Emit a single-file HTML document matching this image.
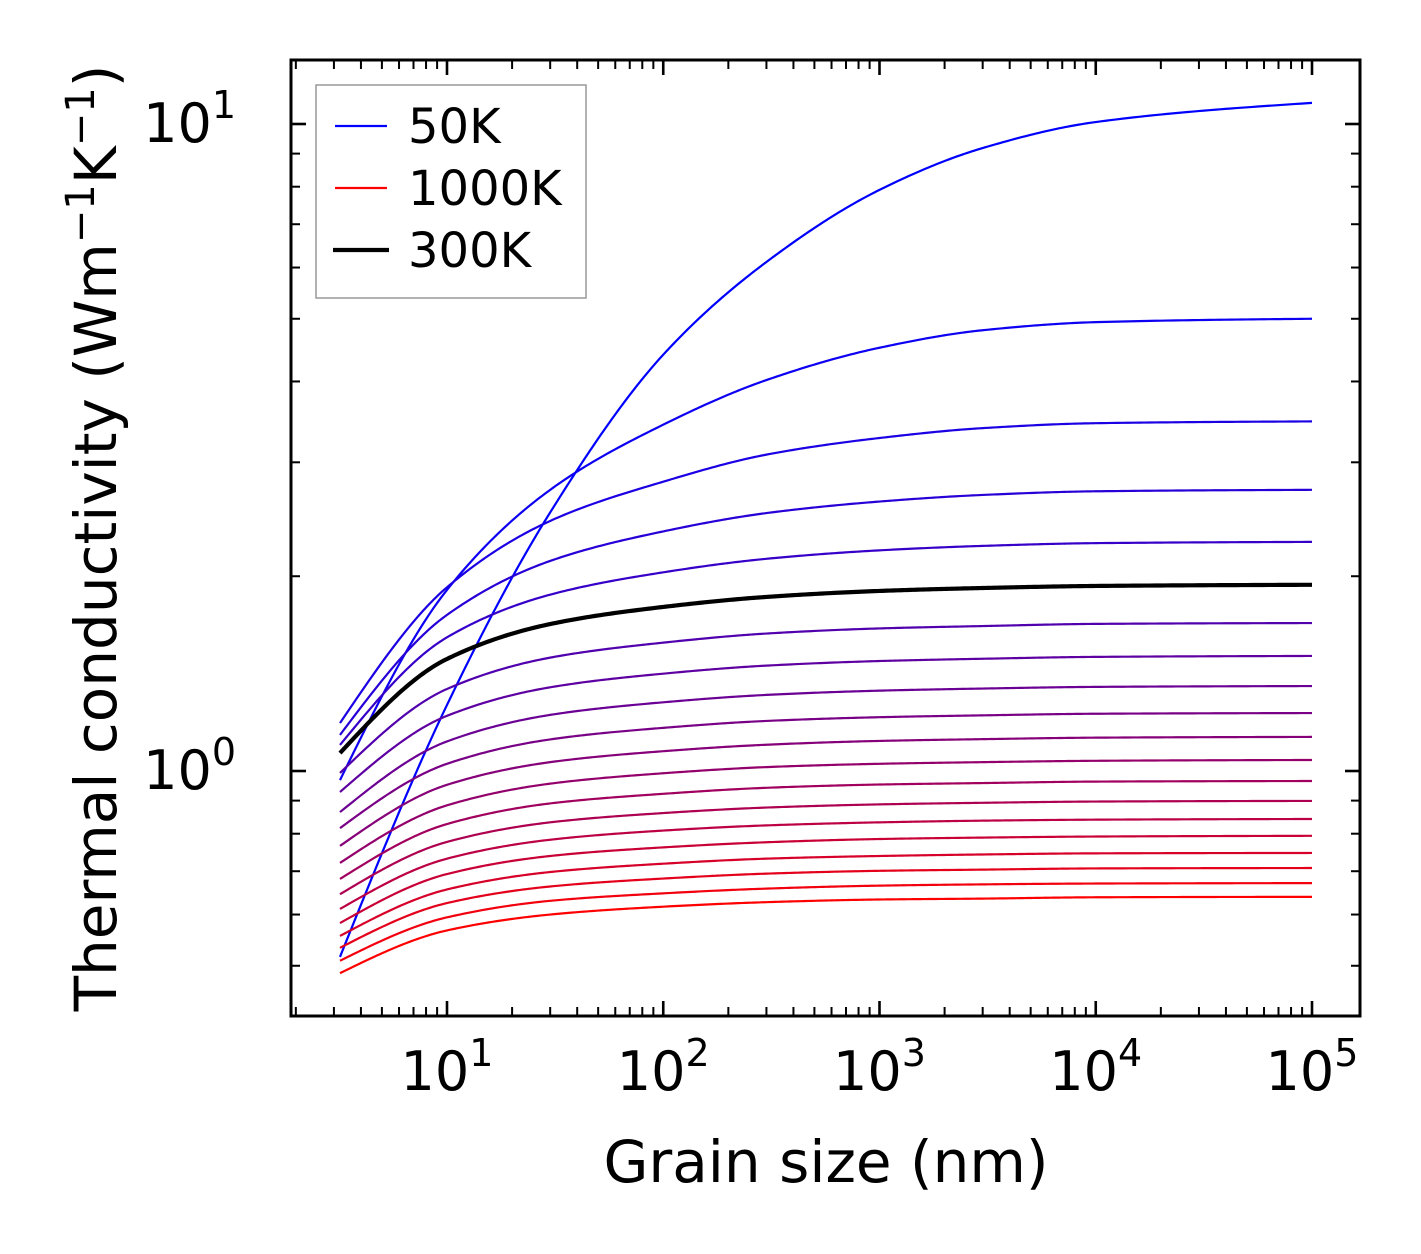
<!DOCTYPE html>
<html><head><meta charset="utf-8"><style>
html,body{margin:0;padding:0;background:#fff;}
svg{display:block;font-family:"DejaVu Sans","Liberation Sans",sans-serif;}
</style></head><body>
<svg id="chart" width="1421" height="1254" viewBox="0 0 1421 1254" xmlns="http://www.w3.org/2000/svg">
<rect x="0" y="0" width="1421" height="1254" fill="#fff"/>
<g id="series"></g>
<g id="axes"></g>
<text x="826" y="1182" font-size="58" text-anchor="middle">Grain size (nm)</text>
<text transform="translate(116,538) rotate(-90)" font-size="58" text-anchor="middle">Thermal conductivity (Wm<tspan dy="-22" font-size="40">−1</tspan><tspan dy="22">K</tspan><tspan dy="-22" font-size="40">−1</tspan><tspan dy="22">)</tspan></text>
<g>
<rect x="316" y="85" width="270" height="213" fill="#fff" stroke="#999" stroke-width="1.5"/>
<line x1="335" y1="126" x2="387" y2="126" stroke="#0000ff" stroke-width="2.2"/>
<text x="408" y="143" font-size="48">50K</text>
<line x1="335" y1="188" x2="387" y2="188" stroke="#ff0000" stroke-width="2.2"/>
<text x="408" y="205" font-size="48">1000K</text>
<line x1="333" y1="250" x2="389" y2="250" stroke="#000" stroke-width="4.2"/>
<text x="408" y="267" font-size="48">300K</text>
</g>
</svg>
<script>
const grainSizes = [3.2, 10, 30, 100, 300, 1000, 3000, 10000, 100000];
const temperatures = [50,100,150,200,250,300,350,400,450,500,550,600,650,700,750,800,850,900,950,1000];
const k50 = [0.516, 1.265, 2.51, 4.40, 6.12, 7.91, 9.18, 10.07, 10.78];
const k100 = [0.968, 1.905, 2.72, 3.43, 4.02, 4.51, 4.80, 4.94, 5.00];
const k150 = [1.186, 1.923, 2.435, 2.80, 3.083, 3.271, 3.388, 3.448, 3.47];
const k200 = [1.137, 1.743, 2.112, 2.346, 2.504, 2.609, 2.671, 2.706, 2.72];
const k250 = [1.097, 1.609, 1.873, 2.028, 2.128, 2.193, 2.228, 2.250, 2.26];
const k300 = [1.066, 1.490, 1.687, 1.793, 1.858, 1.898, 1.918, 1.932, 1.94];
const k350 = [0.993, 1.339, 1.497, 1.579, 1.631, 1.661, 1.675, 1.688, 1.693];
const k400 = [0.928, 1.217, 1.347, 1.414, 1.455, 1.479, 1.491, 1.501, 1.506];
const k450 = [0.864, 1.111, 1.221, 1.277, 1.311, 1.331, 1.341, 1.349, 1.353];
const k500 = [0.816, 1.026, 1.119, 1.166, 1.195, 1.211, 1.219, 1.226, 1.229];
const k550 = [0.766, 0.952, 1.032, 1.073, 1.098, 1.113, 1.120, 1.126, 1.129];
const k600 = [0.721, 0.885, 0.956, 0.992, 1.014, 1.026, 1.032, 1.037, 1.040];
const k650 = [0.681, 0.828, 0.891, 0.922, 0.942, 0.953, 0.958, 0.963, 0.965];
const k700 = [0.645, 0.777, 0.833, 0.861, 0.878, 0.888, 0.893, 0.897, 0.899];
const k750 = [0.612, 0.732, 0.783, 0.809, 0.824, 0.833, 0.838, 0.841, 0.843];
const k800 = [0.582, 0.693, 0.739, 0.762, 0.776, 0.785, 0.789, 0.792, 0.794];
const k850 = [0.556, 0.656, 0.698, 0.719, 0.732, 0.739, 0.743, 0.746, 0.747];
const k900 = [0.533, 0.625, 0.663, 0.682, 0.694, 0.701, 0.704, 0.707, 0.708];
const k950 = [0.509, 0.594, 0.630, 0.647, 0.658, 0.665, 0.668, 0.670, 0.671];
const k1000 = [0.487, 0.567, 0.600, 0.617, 0.627, 0.633, 0.635, 0.638, 0.639];
const xTickLabels = ["1", "2", "3", "4", "5"];
const yTickLabels = ["0", "1"];

const seriesList = [k50,k100,k150,k200,k250,k300,k350,k400,k450,k500,k550,k600,k650,k700,k750,k800,k850,k900,k950,k1000];
const NS = "http://www.w3.org/2000/svg";
const L = 291, R = 1360, T = 60, B = 1016;
const X0 = 230.75, XD = 216.25;
const Y0 = 771, YD = 647;
function xs(v){ return X0 + Math.log10(v) * XD; }
function ys(v){ return Y0 - Math.log10(v) * YD; }

function monotone(xsArr, ysArr, n){
  const m = xsArr.length, d = [], t = new Array(m);
  for (let i=0;i<m-1;i++) d.push((ysArr[i+1]-ysArr[i])/(xsArr[i+1]-xsArr[i]));
  for (let i=1;i<m-1;i++){
    if (d[i-1]*d[i]<=0){ t[i]=0; continue; }
    const h0=xsArr[i]-xsArr[i-1], h1=xsArr[i+1]-xsArr[i];
    const w1=2*h1+h0, w2=h1+2*h0;
    t[i]=(w1+w2)/(w1/d[i-1]+w2/d[i]);
  }
  t[0]=(3*d[0]-t[1])/2; if (t[0]*d[0]<0) t[0]=0;
  t[m-1]=(3*d[m-2]-t[m-2])/2; if (t[m-1]*d[m-2]<0) t[m-1]=0;
  const out=[];
  for (let i=0;i<m-1;i++){ const h=xsArr[i+1]-xsArr[i];
    for (let k=0;k<n;k++){ const s=k/n, h00=2*s*s*s-3*s*s+1, h10=s*s*s-2*s*s+s, h01=-2*s*s*s+3*s*s, h11=s*s*s-s*s;
      out.push([xsArr[i]+s*h, h00*ysArr[i]+h10*h*t[i]+h01*ysArr[i+1]+h11*h*t[i+1]]); } }
  out.push([xsArr[m-1], ysArr[m-1]]);
  return out;
}

const sg = document.getElementById('series');
const order = seriesList.map((_,i)=>i).filter(i=>temperatures[i]!==300).concat(seriesList.map((_,i)=>i).filter(i=>temperatures[i]===300));
order.forEach(i=>{
  const vals = seriesList[i];
  const lx = grainSizes.map(g=>Math.log10(g)), ly = vals.map(v=>Math.log10(v));
  const pts = monotone(lx, ly, 40);
  const d = pts.map((p,j)=>(j?'L':'M')+xs(Math.pow(10,p[0])).toFixed(2)+','+ys(Math.pow(10,p[1])).toFixed(2)).join('');
  const f = i/(seriesList.length-1);
  const isRef = temperatures[i]===300;
  const col = isRef ? '#000' : 'rgb('+Math.round(255*f)+',0,'+Math.round(255*(1-f))+')';
  const p = document.createElementNS(NS,'path');
  p.setAttribute('d', d);
  p.setAttribute('fill','none');
  p.setAttribute('stroke', col);
  p.setAttribute('stroke-width', isRef ? 4.2 : 2.2);
  
  
  sg.appendChild(p);
});

const ag = document.getElementById('axes');
function line(x1,y1,x2,y2,w,name){
  const l=document.createElementNS(NS,'line');
  l.setAttribute('x1',x1);l.setAttribute('y1',y1);l.setAttribute('x2',x2);l.setAttribute('y2',y2);
  l.setAttribute('stroke','#000');l.setAttribute('stroke-width',w);
  
  
  ag.appendChild(l);
}
for (let dec=0; dec<=5; dec++){
  for (let m=1;m<=9;m++){
    const v=m*Math.pow(10,dec), x=xs(v);
    if (x<L+1||x>R-1) continue;
    const len = m===1?15:9, w = m===1?2.6:2;
    line(x,B,x,B-len,w,'x-tick');
    line(x,T,x,T+len,w,'x-tick-top');
  }
}
for (let dec=-1; dec<=1; dec++){
  for (let m=1;m<=9;m++){
    const v=m*Math.pow(10,dec), y=ys(v);
    if (y<T+1||y>B-1) continue;
    const len = m===1?15:9, w = m===1?2.6:2;
    line(L,y,L+len,y,w,'y-tick');
    line(R,y,R-len,y,w,'y-tick-right');
  }
}
const frame=document.createElementNS(NS,'rect');
frame.setAttribute('x',L);frame.setAttribute('y',T);frame.setAttribute('width',R-L);frame.setAttribute('height',B-T);
frame.setAttribute('fill','none');frame.setAttribute('stroke','#000');frame.setAttribute('stroke-width',3);


ag.appendChild(frame);

function powLabel(x,y,exp,anchor,name){
  const t=document.createElementNS(NS,'text');
  t.setAttribute('x',x);t.setAttribute('y',y);t.setAttribute('font-size',54);t.setAttribute('text-anchor',anchor);
  
  
  t.appendChild(document.createTextNode('10'));
  const s=document.createElementNS(NS,'tspan');
  s.setAttribute('dy',-24);s.setAttribute('font-size',38);s.textContent=exp;
  t.appendChild(s);
  ag.appendChild(t);
}
xTickLabels.forEach(lbl=>{
  const x = xs(Math.pow(10, Number(lbl)));
  powLabel(x, 1090, lbl, 'middle', 'x-tick-label');
});
yTickLabels.forEach(lbl=>{
  const y = ys(Math.pow(10, Number(lbl)));
  powLabel(236, y+18, lbl, 'end', 'y-tick-label');
});
</script>
</body></html>
